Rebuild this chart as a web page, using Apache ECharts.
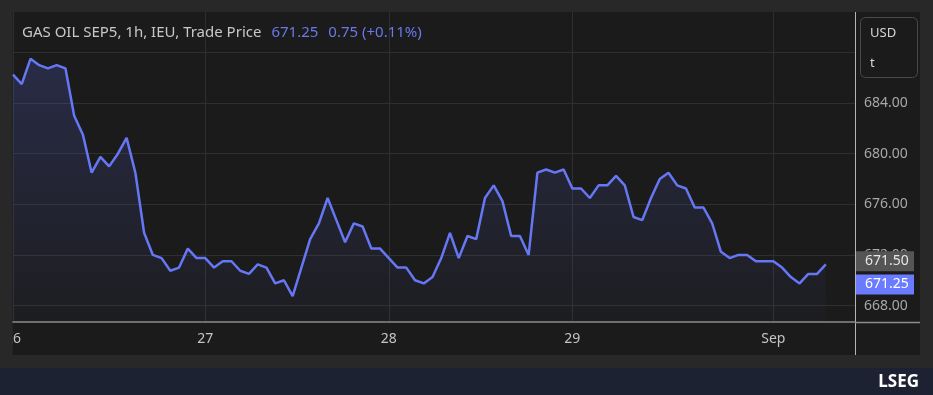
<!DOCTYPE html>
<html>
<head>
<meta charset="utf-8">
<script src="https://cdn.jsdelivr.net/npm/echarts@6/dist/echarts.min.js"></script>
<style>
html,body{margin:0;padding:0;background:#282828;}
#c{width:933px;height:395px;}
</style>
</head>
<body>
<div id="c"></div>
<script>
// Hourly trade prices, GAS OIL SEP5
const prices = [
  686.25, 685.5, 687.5, 687.0, 686.75, 687.0, 686.75, 683.0, 681.5, 678.5,
  679.75, 679.0, 680.0, 681.25, 678.5, 673.75, 672.0, 671.75, 670.75, 671.0,
  672.5, 671.75, 671.75, 671.0, 671.5, 671.5, 670.75, 670.5, 671.25, 671.0,
  669.75, 670.0, 668.75, 671.0, 673.25, 674.5, 676.5, 674.75, 673.0, 674.5,
  674.25, 672.5, 672.5, 671.75, 671.0, 671.0, 670.0, 669.75, 670.25, 671.75,
  673.75, 671.75, 673.5, 673.25, 676.5, 677.5, 676.25, 673.5, 673.5, 672.0,
  678.5, 678.75, 678.5, 678.75, 677.25, 677.25, 676.5, 677.5, 677.5, 678.25,
  677.5, 675.0, 674.75, 676.5, 678.0, 678.5, 677.5, 677.25, 675.75, 675.75,
  674.5, 672.25, 671.75, 672.0, 672.0, 671.5, 671.5, 671.5, 671.0, 670.25,
  669.75, 670.5, 670.5, 671.25
];
// day boundaries (index into prices) and their labels
const dayTickIndex = [0, 22, 43, 64, 87];
const dayTickLabels = ['26', '27', '28', '29', 'Sep'];
// price axis ticks
const priceTicks = [668, 672, 676, 680, 684, 688];
const priceTickLabels = ['668.00', '672.00', '676.00', '680.00', '684.00', ''];
// header texts
const titleText = 'GAS OIL SEP5, 1h, IEU, Trade Price';
const lastPrice = 671.25;
const refPrice = 671.50;
const changeText = '0.75 (+0.11%)';

const seriesData = prices.map((v, i) => [i, v]);
const FONT = '"Noto Sans", "Open Sans", sans-serif';

const chart = echarts.init(document.getElementById('c'), null, {renderer: 'canvas'});
chart.setOption({
  backgroundColor: '#282828',
  animation: false,
  grid: {left: 13, right: 78, top: 12, bottom: 73, show: true, backgroundColor: '#1b1b1b', borderWidth: 0},
  xAxis: {
    type: 'value', min: 0, max: 96.34,
    axisLine: {show: true, onZero: false, lineStyle: {color: '#8c8c8c', width: 1.5}},
    axisTick: {show: false, customValues: dayTickIndex},
    axisLabel: {
      customValues: dayTickIndex,
      color: '#c4c4c4', fontFamily: FONT, fontSize: 14, margin: 10,
      formatter: v => dayTickLabels[dayTickIndex.indexOf(Math.round(v))] || ''
    },
    splitLine: {show: true, lineStyle: {color: '#2f2f2f', width: 1}}
  },
  yAxis: {
    type: 'value', position: 'right', min: 666.7, max: 691.2,
    axisLine: {show: false},
    axisTick: {show: false, customValues: priceTicks},
    axisLabel: {
      customValues: priceTicks,
      color: '#a8a8a8', fontFamily: FONT, fontSize: 14, margin: 9, align: 'left',
      formatter: v => priceTickLabels[priceTicks.indexOf(v)] || ''
    },
    splitLine: {show: true, lineStyle: {color: '#2f2f2f', width: 1}}
  },
  series: [{
    type: 'line',
    data: seriesData,
    symbol: 'none',
    clip: true,
    lineStyle: {color: '#6677f5', width: 2.5},
    areaStyle: {
      color: new echarts.graphic.LinearGradient(0, 0, 0, 1, [
        {offset: 0, color: 'rgba(90,105,230,0.30)'},
        {offset: 1, color: 'rgba(90,105,230,0.04)'}
      ])
    },
    markLine: {
      silent: true,
      symbol: 'none',
      lineStyle: {color: 'rgba(0,0,0,0)', width: 0},
      data: [
        {yAxis: refPrice, label: {
          show: true, position: 'end', distance: 1,
          formatter: refPrice.toFixed(2),
          color: '#e6e6e6', backgroundColor: '#555555',
          fontFamily: FONT, fontSize: 14, padding: [3, 5, 3, 9], width: 44, align: 'left'
        }},
        {yAxis: lastPrice, label: {
          show: true, position: 'end', distance: 1, offset: [0, 20],
          formatter: lastPrice.toFixed(2),
          color: '#ffffff', backgroundColor: '#6a7bff',
          fontFamily: FONT, fontSize: 14, padding: [3, 5, 3, 9], width: 44, align: 'left'
        }}
      ]
    }
  }],
  graphic: [
    // panel background
    {type: 'rect', z: -10, shape: {x: 12.5, y: 12, width: 907.5, height: 343}, style: {fill: '#1b1b1b'}},
    // cover outside-left of panel (clips first day label)
    {type: 'rect', z: 100, shape: {x: 0, y: 323, width: 12.5, height: 32}, style: {fill: '#282828'}},
    // axis separator lines
    {type: 'line', z: 50, shape: {x1: 855.5, y1: 12, x2: 855.5, y2: 355}, style: {stroke: '#b5b5b5', lineWidth: 1}},
    {type: 'line', z: 50, shape: {x1: 855, y1: 322.5, x2: 920, y2: 322.5}, style: {stroke: '#8c8c8c', lineWidth: 1.5}},
    // unit box
    {type: 'rect', z: 50, shape: {x: 860.5, y: 17.5, width: 57, height: 60, r: 5}, style: {fill: 'transparent', stroke: '#4a4a4a', lineWidth: 1}},
    {type: 'text', z: 51, x: 870, y: 33, style: {text: 'USD', fill: '#d6d6d6', font: '13px ' + FONT, textVerticalAlign: 'middle'}},
    {type: 'text', z: 51, x: 870, y: 63, style: {text: 't', fill: '#d6d6d6', font: '13px ' + FONT, textVerticalAlign: 'middle'}},
    // header
    {type: 'text', z: 51, x: 22, y: 33, style: {
      text: '{a|' + titleText + '}{g|}{b|' + lastPrice.toFixed(2) + '}{g|}{b|' + changeText + '}',
      textVerticalAlign: 'middle',
      rich: {
        a: {fill: '#c8c8c8', font: '15px ' + FONT},
        b: {fill: '#6b78ea', font: '15px ' + FONT},
        g: {width: 10}
      }
    }},
    // footer bar
    {type: 'rect', z: 50, shape: {x: 0, y: 368, width: 933, height: 27}, style: {fill: '#1c2231'}},
    {type: 'text', z: 51, x: 919, y: 382, style: {text: 'LSEG', fill: '#ffffff', font: 'bold 17px ' + FONT, textAlign: 'right', textVerticalAlign: 'middle'}}
  ]
});
</script>
</body>
</html>
